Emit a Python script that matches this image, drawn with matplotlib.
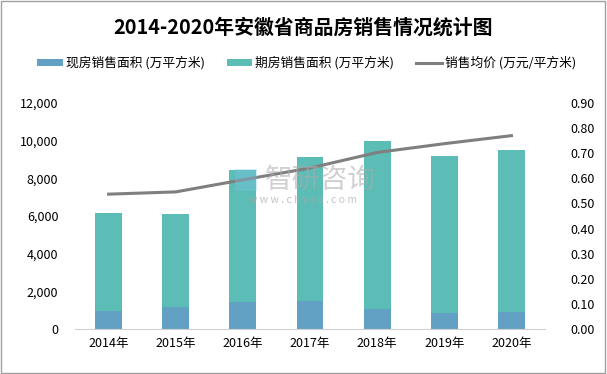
import matplotlib
matplotlib.use("Agg")
import matplotlib.pyplot as plt
from matplotlib.patches import Rectangle
from matplotlib.ticker import FuncFormatter, MultipleLocator

plt.rcParams['font.family'] = ['Noto Sans CJK SC', 'DejaVu Sans']

years = ["2014年", "2015年", "2016年", "2017年", "2018年", "2019年", "2020年"]
current_area = [955, 1165, 1430, 1485, 1060, 850, 900]
total_area = [6150, 6100, 8430, 9130, 9970, 9180, 9500]
future_area = [t - c for t, c in zip(total_area, current_area)]
avg_price = [0.537, 0.546, 0.594, 0.641, 0.703, 0.738, 0.770]

title = "2014-2020年安徽省商品房销售情况统计图"
labels = ["现房销售面积 (万平方米)", "期房销售面积 (万平方米)", "销售均价 (万元/平方米)"]

c_cur = "#62A1C3"
c_fut = "#5CBCB6"
c_line = "#7F7F7F"

fig = plt.figure(figsize=(6.07, 3.74), dpi=100)
ax = fig.add_axes([75/607, 45/374, 470/607, 226/374])
ax2 = ax.twinx()

x = list(range(len(years)))
w = 0.40
b1 = ax.bar(x, current_area, width=w, color=c_cur, label=labels[0], zorder=2)
b2 = ax.bar(x, future_area, width=w, bottom=current_area, color=c_fut, label=labels[1], zorder=2)
l1, = ax2.plot(x, avg_price, color=c_line, lw=2.2, label=labels[2], zorder=3)

ax.set_xlim(-0.5, len(years) - 0.5)
ax.set_ylim(0, 12000)
ax2.set_ylim(0, 0.9)
ax.yaxis.set_major_locator(MultipleLocator(2000))
ax2.yaxis.set_major_locator(MultipleLocator(0.1))
ax.yaxis.set_major_formatter(FuncFormatter(lambda v, p: f"{int(v):,}"))
ax2.yaxis.set_major_formatter(FuncFormatter(lambda v, p: f"{v:.2f}"))
ax.set_xticks(x)
ax.set_xticklabels(years, fontsize=9)

for a in (ax, ax2):
    for s in a.spines.values():
        s.set_visible(False)
    a.tick_params(axis='y', length=0, labelsize=9, pad=12)
ax.spines['bottom'].set_visible(True)
ax.spines['bottom'].set_color("#D0D0D0")
ax.tick_params(axis='x', length=0, pad=6)
ax2.tick_params(axis='y', pad=18)

fig.text(0.5, 1 - 27/374, title, ha='center', va='center', fontsize=14.3, fontweight='bold')
fig.legend(handles=[b1, b2, l1], labels=labels, loc='center', bbox_to_anchor=(0.505, 1 - 63/374),
           ncol=3, frameon=False, fontsize=9.2, handlelength=2.0, handleheight=0.4,
           columnspacing=1.7, handletextpad=0.25)

# watermark
fig.patches.append(Rectangle((235/607, 1 - 191/374), 22/607, 22/374, transform=fig.transFigure,
                             facecolor="#7EC3E6", alpha=0.35, edgecolor='none', zorder=10))
fig.text(320/607, 1 - 180/374, "智研咨询", ha='center', va='center', fontsize=20,
         color="#AAAAAA", alpha=0.55, zorder=10)
fig.text(303/607, 1 - 200/374, "w w w . c h y x x . c o m", ha='center', va='center', fontsize=7.5,
         color="#AAAAAA", alpha=0.7, zorder=10)

fig.patches.append(Rectangle((0.002, 0.003), 0.995, 0.994, transform=fig.transFigure,
                             fill=False, edgecolor="#A0A0A0", lw=1))

fig.savefig("out.png", dpi=100)
